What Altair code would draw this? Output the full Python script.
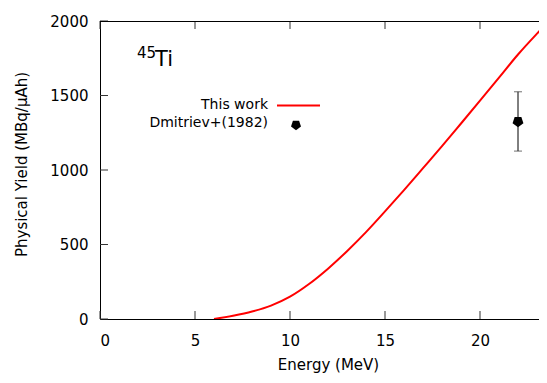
import altair as alt
import pandas as pd

# "This work" calculated physical yield curve
energy = [6.0, 7.0, 8.0, 9.0, 10.0, 11.0, 12.0, 13.0, 14.0, 15.0, 16.0, 17.0,
          18.0, 19.0, 20.0, 21.0, 22.0, 23.0, 23.37]
yield_mbq = [0, 22, 50, 90, 150, 235, 338, 455, 583, 722, 865, 1012,
             1160, 1312, 1465, 1620, 1775, 1915, 1965]

# Dmitriev+(1982) experimental point
exp_energy = [22.0]
exp_yield = [1325]
exp_low = [1127]
exp_high = [1525]

x_ticks = [0, 5, 10, 15, 20]
y_ticks = [0, 500, 1000, 1500, 2000]

W, H = 439, 298
FONT = "DejaVu Sans"
xs = alt.Scale(domain=[0, W / 19.0], nice=False, zero=False)
ys = alt.Scale(domain=[0, 2000], nice=False)

curve_df = pd.DataFrame({"E": energy, "Y": yield_mbq})
exp_df = pd.DataFrame({"E": exp_energy, "Y": exp_yield, "lo": exp_low, "hi": exp_high})
xt_df = pd.DataFrame({"v": x_ticks})
yt_df = pd.DataFrame({"v": y_ticks})

x_axis = alt.Axis(values=x_ticks, format="d", title="Energy (MeV)", domain=True,
                  domainColor="black", domainWidth=1, ticks=False,
                  tickSize=0, grid=False, labelFont=FONT, labelFontSize=15,
                  labelColor="black", labelPadding=14, titleFont=FONT,
                  titleFontSize=15, titleFontWeight="normal", titleColor="black",
                  titleX=228, titleY=50, titleAlign="center",
                  titleBaseline="alphabetic")
y_axis = alt.Axis(values=y_ticks, format="d", title="Physical Yield (MBq/μAh)",
                  domain=True, domainColor="black", domainWidth=1,
                  ticks=False, tickSize=0, grid=False, labelFont=FONT,
                  labelFontSize=15, labelColor="black", labelPadding=12,
                  titleFont=FONT, titleFontSize=15, titleFontWeight="normal",
                  titleColor="black", titleX=-79, titleY=143, titleAngle=270,
                  titleAlign="center", titleBaseline="middle")

line = alt.Chart(curve_df).mark_line(
    color="#ff0000", strokeWidth=2, interpolate="monotone", clip=True
).encode(
    x=alt.X("E:Q", scale=xs, axis=x_axis),
    y=alt.Y("Y:Q", scale=ys, axis=y_axis),
)

pent = "M0,1 L0.951,0.309 L0.588,-0.809 L-0.588,-0.809 L-0.951,0.309 Z"

err = alt.Chart(exp_df).mark_rule(color="black", strokeWidth=1).encode(
    x=alt.X("E:Q", scale=xs), y=alt.Y("lo:Q", scale=ys), y2="hi:Q")
cap_lo = alt.Chart(exp_df).mark_tick(color="#333333", orient="horizontal", size=8,
                                     thickness=1).encode(
    x=alt.X("E:Q", scale=xs), y=alt.Y("lo:Q", scale=ys))
cap_hi = alt.Chart(exp_df).mark_tick(color="#333333", orient="horizontal", size=8,
                                     thickness=1).encode(
    x=alt.X("E:Q", scale=xs), y=alt.Y("hi:Q", scale=ys))
pts = alt.Chart(exp_df).mark_point(shape=pent, filled=True, color="black",
                                   size=130, opacity=1).encode(
    x=alt.X("E:Q", scale=xs), y=alt.Y("Y:Q", scale=ys))

# inward tick marks (gnuplot style)
xt_bot = alt.Chart(xt_df).mark_rule(color="#333333", strokeWidth=1).encode(
    x=alt.X("v:Q", scale=xs), y=alt.value(H), y2=alt.value(H - 8))
xt_top = alt.Chart(xt_df).mark_rule(color="#333333", strokeWidth=1).encode(
    x=alt.X("v:Q", scale=xs), y=alt.value(0), y2=alt.value(8))
yt_left = alt.Chart(yt_df).mark_rule(color="#333333", strokeWidth=1).encode(
    y=alt.Y("v:Q", scale=ys), x=alt.value(0), x2=alt.value(8))
top_border = alt.Chart(pd.DataFrame({"a": [1]})).mark_rule(
    color="black", strokeWidth=1).encode(
    x=alt.value(0), x2=alt.value(W), y=alt.value(0.5))

# nuclide label
lab45 = alt.Chart(pd.DataFrame({"t": ["45"]})).mark_text(
    font=FONT, fontSize=15, align="left", baseline="alphabetic", color="black"
).encode(text="t:N", x=alt.value(37), y=alt.value(37))
labTi = alt.Chart(pd.DataFrame({"t": ["Ti"]})).mark_text(
    font=FONT, fontSize=21, align="left", baseline="alphabetic", color="black"
).encode(text="t:N", x=alt.value(55), y=alt.value(45))

# key
key_txt = alt.Chart(pd.DataFrame({"t": ["This work", "Dmitriev+(1982)"],
                                  "py": [84, 102]})).mark_text(
    font=FONT, fontSize=14, align="right", baseline="middle", color="black"
).encode(text="t:N", x=alt.value(168), y=alt.Y("py:Q", scale=None))
key_line = alt.Chart(pd.DataFrame({"a": [1]})).mark_rule(
    color="#ff0000", strokeWidth=2).encode(
    x=alt.value(177), x2=alt.value(220), y=alt.value(84.5))
key_pt = alt.Chart(pd.DataFrame({"a": [1]})).mark_point(
    shape=pent, filled=True, color="black", size=110, opacity=1).encode(
    x=alt.value(196), y=alt.value(104))

chart = alt.layer(
    line, err, cap_lo, cap_hi, pts, xt_bot, xt_top, yt_left, top_border,
    lab45, labTi, key_txt, key_line, key_pt
).properties(
    width=W, height=H,
    autosize=alt.AutoSizeParams(type="none"),
    padding={"left": 92, "top": 13, "right": 0, "bottom": 56},
).configure_view(
    stroke=None
).configure(
    background="white"
)

chart.save("out.html", embed_options={"renderer": "svg", "actions": False})
